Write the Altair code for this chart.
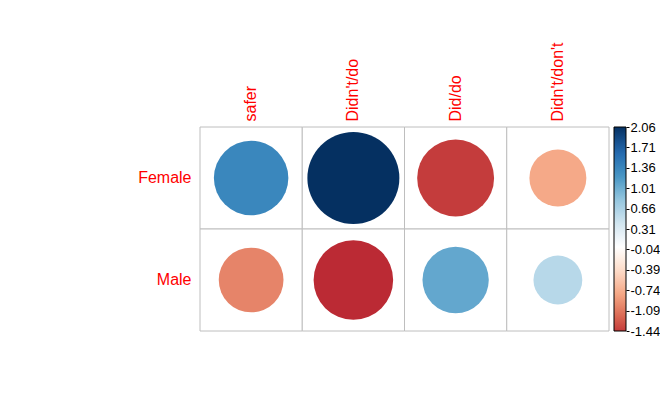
import altair as alt
import pandas as pd

categories = ["safer", "Didn't/do", "Did/do", "Didn't/don't"]
groups = ["Female", "Male"]
female_vals = [1.35, 2.06, -1.44, -0.79]
male_vals = [-1.02, -1.54, 1.07, 0.58]

legend_ticks = [2.06, 1.71, 1.36, 1.01, 0.66, 0.31, -0.04, -0.39, -0.74, -1.09, -1.44]
color_stops = [-1.44, -1.236, -0.824, -0.412, 0.0, 0.412, 0.824, 1.236, 1.648, 2.06]
color_range = ["#C43C3C", "#D6604D", "#F4A582", "#FDDBC7", "#FFFFFF",
               "#D1E5F0", "#92C5DE", "#4393C3", "#2166AC", "#053061"]

rows = []
for g, vals in zip(groups, [female_vals, male_vals]):
    for c, v in zip(categories, vals):
        rows.append({"group": g, "category": c, "value": v})
df = pd.DataFrame(rows)
ticks_df = pd.DataFrame({"v": legend_ticks})

FONT = "Liberation Sans"

x_enc = alt.X("category:N", sort=categories,
              scale=alt.Scale(paddingInner=0, paddingOuter=0),
              axis=alt.Axis(orient="top", labelAngle=-90, domain=False, ticks=False,
                            labelColor="red", labelFontSize=16, labelFont=FONT,
                            labelPadding=6, title=None))
y_enc = alt.Y("group:N", sort=groups,
              scale=alt.Scale(paddingInner=0, paddingOuter=0),
              axis=alt.Axis(orient="left", labelAngle=0, domain=False, ticks=False,
                            labelColor="red", labelFontSize=16, labelFont=FONT,
                            labelPadding=9, title=None))

base = alt.Chart(df)

rects = base.mark_rect(fill="white", stroke="#BEBEBE", strokeWidth=1).encode(
    x=x_enc, y=y_enc
)

circles = base.mark_circle(opacity=1).transform_calculate(
    absval="abs(datum.value)"
).encode(
    x=alt.X("category:N", sort=categories),
    y=alt.Y("group:N", sort=groups),
    size=alt.Size("absval:Q", scale=alt.Scale(domain=[0, 2.06], range=[0, 8464], zero=True),
                  legend=None),
    color=alt.Color("value:Q",
                    scale=alt.Scale(domain=color_stops, range=color_range,
                                    interpolate="rgb", clamp=False),
                    legend=alt.Legend(orient="none", legendX=414, legendY=0,
                                      direction="vertical", gradientLength=204,
                                      gradientThickness=12, gradientStrokeColor="black",
                                      gradientStrokeWidth=1, values=[2.06, -1.44],
                                      labelExpr="''", labelOpacity=0, title=None,
                                      labelOverlap=False, padding=0)),
)

grid_layer = alt.layer(rects, circles)

bar_axis = alt.Chart(ticks_df).mark_point(opacity=0).encode(
    x=alt.value(0),
    y=alt.Y("v:Q",
            scale=alt.Scale(domain=[-1.44, 2.06], nice=False, zero=False),
            axis=alt.Axis(orient="right", offset=17, values=legend_ticks,
                          labelExpr="replace(format(datum.value, '.2f'), '\u2212', '-')",
                          labelFlush=False, labelOverlap=False, labelBound=False,
                          grid=False, domain=False, tickSize=3, tickColor="black",
                          tickWidth=1, labelPadding=1, labelFontSize=13,
                          labelFont=FONT, labelColor="black", labelBaseline="middle",
                          title=None)),
)

chart = alt.layer(grid_layer, bar_axis).resolve_scale(y="independent").properties(
    width=409, height=204,
    autosize=alt.AutoSizeParams(type="none"),
    padding={"left": 192, "top": 119, "right": 51, "bottom": 50},
).configure_view(stroke=None)

chart.save("out.html", embed_options={"renderer": "svg", "actions": False})
